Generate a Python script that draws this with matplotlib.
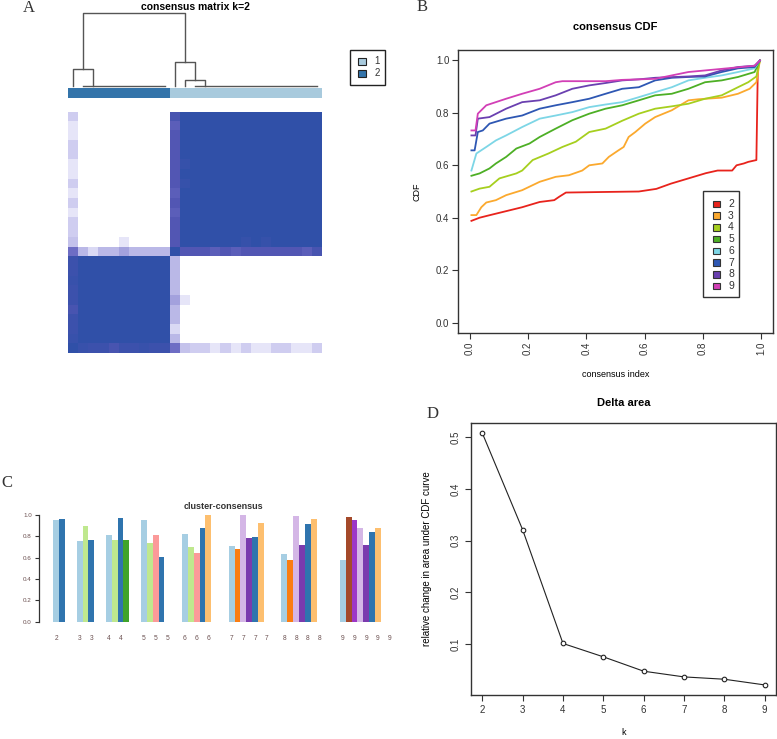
import matplotlib
matplotlib.use('Agg')
import matplotlib.pyplot as plt
import numpy as np
from matplotlib.colors import LinearSegmentedColormap
from matplotlib.patches import Rectangle

plt.rcParams['font.family'] = ['Liberation Sans', 'DejaVu Sans']

# ---------------- data ----------------
# Panel A: consensus matrix k=2
cluster_k2 = [2] * 10 + [1] * 15
s0_vs_c2 = [0.9, 0.85, 0.85, 0.8, 0.85, 0.85, 0.9, 0.85, 0.85]          # sample0 vs samples 1..9
s0_vs_s10 = 0.6
s0_vs_c1 = [0.25, 0.2, 0.2, 0.1, 0.2, 0.1, 0.2, 0.1, 0.1, 0.2, 0.2, 0.1, 0.1, 0.2]  # vs 11..24
s10_vs_c2 = [0.3, 0.15, 0.3, 0.3, 0.4, 0.3, 0.3, 0.3, 0.3]               # vs 1..9
s10_vs_c1 = [0.75, 0.75, 0.75, 0.7, 0.75, 0.7, 0.75, 0.75, 0.75, 0.75, 0.75, 0.75, 0.7, 0.8]
extra_pairs = [(5, 11, 0.1), (11, 17, 0.92), (11, 19, 0.92)]
# dendrogram: (height, left, right); ints = leaves; lists = leaves merged at height 0
dendro = (1.0, (0.233, 0, list(range(1, 10))), (0.329, 10, (0.082, 11, list(range(12, 25)))))
cluster_colors = {1: '#A8CADD', 2: '#3374AA'}

# Panel B: consensus CDF
cdf_k = [2, 3, 4, 5, 6, 7, 8, 9]
cdf_x2 = [0.006, 0.034, 0.07, 0.125, 0.18, 0.24, 0.29, 0.307, 0.33, 0.45, 0.58, 0.64, 0.69, 0.75, 0.81, 0.85, 0.90, 0.915, 0.94, 0.955, 0.983, 0.988, 0.995]
cdf_y2 = [0.388, 0.40, 0.41, 0.425, 0.44, 0.46, 0.467, 0.48, 0.496, 0.498, 0.50, 0.51, 0.53, 0.55, 0.57, 0.58, 0.58, 0.60, 0.607, 0.613, 0.62, 0.975, 1.0]
cdf_x3 = [0.006, 0.023, 0.04, 0.057, 0.09, 0.125, 0.18, 0.24, 0.295, 0.34, 0.386, 0.41, 0.455, 0.477, 0.51, 0.528, 0.545, 0.568, 0.602, 0.636, 0.693, 0.75, 0.784, 0.864, 0.92, 0.96, 0.983, 0.995]
cdf_y3 = [0.41, 0.41, 0.44, 0.458, 0.467, 0.486, 0.505, 0.537, 0.556, 0.562, 0.58, 0.60, 0.607, 0.632, 0.657, 0.67, 0.708, 0.727, 0.759, 0.784, 0.81, 0.848, 0.852, 0.858, 0.873, 0.892, 0.917, 1.0]
cdf_x4 = [0.006, 0.034, 0.068, 0.102, 0.16, 0.18, 0.216, 0.27, 0.318, 0.364, 0.41, 0.466, 0.523, 0.58, 0.636, 0.693, 0.75, 0.807, 0.864, 0.92, 0.955, 0.983, 0.995]
cdf_y4 = [0.50, 0.511, 0.518, 0.55, 0.569, 0.58, 0.62, 0.645, 0.67, 0.69, 0.727, 0.74, 0.77, 0.797, 0.816, 0.825, 0.835, 0.854, 0.867, 0.898, 0.917, 0.939, 1.0]
cdf_x5 = [0.006, 0.034, 0.068, 0.09, 0.125, 0.16, 0.205, 0.24, 0.295, 0.352, 0.41, 0.466, 0.523, 0.58, 0.636, 0.693, 0.75, 0.807, 0.864, 0.92, 0.977, 0.995]
cdf_y5 = [0.56, 0.569, 0.588, 0.607, 0.632, 0.664, 0.683, 0.708, 0.74, 0.772, 0.797, 0.816, 0.829, 0.848, 0.867, 0.873, 0.892, 0.917, 0.924, 0.937, 0.956, 1.0]
cdf_x6 = [0.006, 0.023, 0.057, 0.09, 0.125, 0.18, 0.24, 0.295, 0.352, 0.41, 0.466, 0.523, 0.58, 0.636, 0.693, 0.75, 0.807, 0.864, 0.92, 0.977, 0.995]
cdf_y6 = [0.58, 0.645, 0.67, 0.695, 0.714, 0.746, 0.778, 0.79, 0.803, 0.822, 0.832, 0.841, 0.86, 0.879, 0.898, 0.924, 0.934, 0.943, 0.956, 0.97, 1.0]
cdf_x7 = [0.006, 0.017, 0.028, 0.045, 0.068, 0.125, 0.18, 0.24, 0.295, 0.352, 0.41, 0.466, 0.523, 0.58, 0.636, 0.693, 0.75, 0.807, 0.864, 0.92, 0.977, 0.995]
cdf_y7 = [0.657, 0.657, 0.727, 0.733, 0.759, 0.778, 0.79, 0.816, 0.829, 0.841, 0.854, 0.873, 0.892, 0.898, 0.924, 0.934, 0.937, 0.939, 0.956, 0.97, 0.975, 1.0]
cdf_x8 = [0.006, 0.02, 0.028, 0.068, 0.125, 0.18, 0.24, 0.295, 0.352, 0.41, 0.466, 0.523, 0.58, 0.636, 0.75, 0.807, 0.864, 0.92, 0.977, 0.995]
cdf_y8 = [0.714, 0.714, 0.778, 0.784, 0.816, 0.841, 0.848, 0.867, 0.892, 0.905, 0.914, 0.924, 0.928, 0.934, 0.939, 0.943, 0.962, 0.975, 0.98, 1.0]
cdf_x9 = [0.006, 0.02, 0.028, 0.057, 0.125, 0.18, 0.24, 0.295, 0.318, 0.466, 0.523, 0.636, 0.693, 0.75, 0.864, 0.977, 0.995]
cdf_y9 = [0.733, 0.733, 0.797, 0.829, 0.854, 0.873, 0.892, 0.917, 0.921, 0.921, 0.926, 0.93, 0.943, 0.956, 0.968, 0.98, 1.0]
cdf_colors = ['#E8231C', '#FBA92E', '#A6CF1E', '#4DAF25', '#7DD6E6', '#2E57B3', '#6A40B0', '#D23FB6']

# Panel C: cluster-consensus
cc_k = [2, 3, 4, 5, 6, 7, 8, 9]
nan = float('nan')
cc_v2 = [0.953, 0.962]
cc_v3 = [0.759, 0.897, 0.769]
cc_v4 = [0.809, 0.766, 0.975, 0.769]
cc_v5 = [0.953, 0.734, 0.809, 0.603, nan]
cc_v6 = [0.819, 0.703, 0.647, 0.875, 1.0, nan]
cc_v7 = [0.7125, 0.681, 1.0, 0.781, 0.791, 0.928, nan]
cc_v8 = [0.634, 0.578, 0.99, 0.722, 0.916, 0.966, nan, nan]
cc_v9 = [0.578, 0.984, 0.953, 0.875, 0.722, 0.838, 0.875, nan, nan]
LB, DB, LG, DG, PK = '#A6CEE3', '#2F74AE', '#BFE88E', '#3FA42B', '#FB9A99'
LO, OR, LP, PU, BR, VI = '#FDBF6F', '#FA7D12', '#D4B6E6', '#7A3AAE', '#A4492A', '#9D36C6'
cc_c2 = [LB, DB]
cc_c3 = [LB, LG, DB]
cc_c4 = [LB, LG, DB, DG]
cc_c5 = [LB, LG, PK, DB, 'none']
cc_c6 = [LB, LG, PK, DB, LO, 'none']
cc_c7 = [LB, OR, LP, PU, DB, LO, 'none']
cc_c8 = [LB, OR, LP, PU, DB, LO, 'none', 'none']
cc_c9 = [LB, BR, VI, LP, PU, DB, LO, 'none', 'none']

# Panel D: delta area
delta_k = [2, 3, 4, 5, 6, 7, 8, 9]
delta_v = [0.5078, 0.321, 0.1013, 0.0755, 0.0477, 0.0367, 0.0322, 0.0212]

# ---------------- figure ----------------
W, H = 777, 739
fig = plt.figure(figsize=(W / 100, H / 100), dpi=100)


def ax_px(x0, y0, x1, y1, **kw):
    return fig.add_axes([x0 / W, 1 - y1 / H, (x1 - x0) / W, (y1 - y0) / H], **kw)


# ---- Panel A ----
n = len(cluster_k2)
M = np.array([[1.0 if cluster_k2[i] == cluster_k2[j] else 0.0 for j in range(n)] for i in range(n)])


def setpair(i, j, v):
    M[i, j] = v
    M[j, i] = v


for j, v in zip(range(1, 10), s0_vs_c2):
    setpair(0, j, v)
setpair(0, 10, s0_vs_s10)
for j, v in zip(range(11, 25), s0_vs_c1):
    setpair(0, j, v)
for j, v in zip(range(1, 10), s10_vs_c2):
    setpair(10, j, v)
for j, v in zip(range(11, 25), s10_vs_c1):
    setpair(10, j, v)
for i, j, v in extra_pairs:
    setpair(i, j, v)

cmap = LinearSegmentedColormap.from_list('cons', [
    (0.0, '#FFFFFF'), (0.1, '#E6E5F8'), (0.2, '#CFCDF0'), (0.3, '#BAB8E7'),
    (0.4, '#A3A1DD'), (0.6, '#6E6DC4'), (0.75, '#5357B4'), (0.85, '#3D52AD'),
    (1.0, '#3050A8')])

axh = ax_px(68, 112, 322, 353)
axh.imshow(M[::-1], cmap=cmap, vmin=0, vmax=1, aspect='auto',
           interpolation='nearest', extent=(0, n, 0, n))
axh.axis('off')

axd = ax_px(68, 13, 322, 86)
axd.set_xlim(0, n)
axd.set_ylim(0, dendro[0])
axd.axis('off')
dcol = '#555555'


def draw_tree(t):
    if isinstance(t, int):
        return t + 0.5, 0.0
    if isinstance(t, list):
        cs = [i + 0.5 for i in t]
        axd.plot([cs[0], cs[-1]], [0, 0], color=dcol, lw=1, clip_on=False)
        x = cs[-1]
        for c in reversed(cs[:-1]):
            x = (c + x) / 2
        return x, 0.0
    h, l, r = t
    xl, hl = draw_tree(l)
    xr, hr = draw_tree(r)
    axd.plot([xl, xl, xr, xr], [hl, h, h, hr], color=dcol, lw=1, clip_on=False)
    return (xl + xr) / 2, h


draw_tree(dendro)

axc = ax_px(68, 88, 322, 98)
axc.bar(np.arange(n), 1, width=1, align='edge',
        color=[cluster_colors[c] for c in cluster_k2], linewidth=0)
axc.set_xlim(0, n)
axc.set_ylim(0, 1)
axc.axis('off')

fig.text(195 / W, 1 - 7 / H, 'consensus matrix k=2', ha='center', va='center',
         fontsize=7.5, fontweight='bold')

# ---- Panel B ----
axb = ax_px(458, 50, 773, 333)
cdf_xs = [cdf_x2, cdf_x3, cdf_x4, cdf_x5, cdf_x6, cdf_x7, cdf_x8, cdf_x9]
cdf_ys = [cdf_y2, cdf_y3, cdf_y4, cdf_y5, cdf_y6, cdf_y7, cdf_y8, cdf_y9]
for xs, ys, c in zip(cdf_xs, cdf_ys, cdf_colors):
    axb.plot(xs, ys, color=c, lw=1.3)
axb.set_xlim(-0.04, 1.04)
axb.set_ylim(-0.04, 1.04)
ticks = [0.0, 0.2, 0.4, 0.6, 0.8, 1.0]
axb.set_xticks(ticks)
axb.set_xticklabels(['%.1f' % t for t in ticks], rotation=90)
axb.set_yticks(ticks)
axb.set_yticklabels(['%.1f' % t for t in ticks])
axb.tick_params(direction='out', length=4.3, width=0.8, labelsize=7, colors='#333333', pad=2)
for s in axb.spines.values():
    s.set_color('#333333')
    s.set_linewidth(1)
axb.text(0.5, 1.0 + 23 / 283, 'consensus CDF', transform=axb.transAxes, ha='center',
         va='center', fontsize=8, fontweight='bold')
axb.set_xlabel('consensus index', fontsize=6.5)
axb.xaxis.set_label_coords(0.5, -0.13)
axb.set_ylabel('CDF', fontsize=6.5)
axb.yaxis.set_label_coords(-0.117, 0.5)

# ---- Panel C ----
axC = ax_px(38.5, 515, 393, 621.7)
cc_vals = [cc_v2, cc_v3, cc_v4, cc_v5, cc_v6, cc_v7, cc_v8, cc_v9]
cc_cols = [cc_c2, cc_c3, cc_c4, cc_c5, cc_c6, cc_c7, cc_c8, cc_c9]
lab_col = '#6B5050'
offset = 0
for k, vals, cols in zip(cc_k, cc_vals, cc_cols):
    xs = np.arange(len(vals)) + offset
    v = np.nan_to_num(np.array(vals), nan=0.0)
    axC.bar(xs, v, width=1, align='edge', color=cols, linewidth=0)
    for i, x in enumerate(xs):
        if i % 2 == 0:
            axC.text(x + 0.5, -0.153, str(k), ha='center', va='center',
                     fontsize=4.8, color=lab_col,
                     transform=axC.get_xaxis_transform())
    offset += len(vals) + 2
axC.set_xlim(-2.53, 58.07)
axC.set_ylim(0, 1)
for s in ['top', 'right', 'bottom']:
    axC.spines[s].set_visible(False)
axC.spines['left'].set_linewidth(0.9)
axC.spines['left'].set_color('#333333')
axC.set_xticks([])
cticks = [0.0, 0.2, 0.4, 0.6, 0.8, 1.0]
axC.set_yticks(cticks)
axC.set_yticklabels(['%.1f' % t for t in cticks])
axC.tick_params(axis='y', direction='out', length=3.2, width=0.8, labelsize=4.5,
                labelcolor=lab_col, color='#333333', pad=1.5)
axC.patch.set_alpha(0)
axC.text(29, 1.075, 'cluster-consensus', ha='center', va='center', fontsize=6.5,
         fontweight='bold', color='#333333', transform=axC.get_xaxis_transform())

# ---- Panel D ----
axD = ax_px(471, 423, 776, 695)
axD.plot(delta_k, delta_v, color='#222222', lw=0.8, marker='o', markersize=3.3,
         markerfacecolor='white', markeredgecolor='#222222', markeredgewidth=0.8)
kr = max(delta_k) - min(delta_k)
axD.set_xlim(min(delta_k) - 0.04 * kr, max(delta_k) + 0.04 * kr)
vr = max(delta_v) - min(delta_v)
axD.set_ylim(min(delta_v) - 0.04 * vr, max(delta_v) + 0.04 * vr)
axD.set_xticks(delta_k)
dticks = [0.1, 0.2, 0.3, 0.4, 0.5]
axD.set_yticks(dticks)
axD.set_yticklabels(['%.1f' % t for t in dticks], rotation=90, va='center')
axD.tick_params(direction='out', length=4.3, width=0.8, labelsize=7, colors='#333333', pad=3)
for s in axD.spines.values():
    s.set_color('#333333')
    s.set_linewidth(1)
axD.text(0.5, 1.0 + 20 / 272, 'Delta area', transform=axD.transAxes, ha='center',
         va='center', fontsize=8, fontweight='bold')
axD.set_xlabel('k', fontsize=6.5)
axD.xaxis.set_label_coords(0.5, -0.12)
axD.set_ylabel('relative change in area under CDF curve', fontsize=7)
axD.yaxis.set_label_coords(-0.128, 0.5)

# ---- overlay: legends and panel letters ----
fa = fig.add_axes([0, 0, 1, 1], zorder=10)
fa.set_xlim(0, W)
fa.set_ylim(H, 0)
fa.axis('off')
fa.patch.set_alpha(0)

# legend A
fa.add_patch(Rectangle((350, 50), 35, 35, fill=False, edgecolor='#222222', lw=1))
for i, cl in enumerate([1, 2]):
    y = 61.5 + i * 12
    fa.add_patch(Rectangle((358, y - 3.5), 8, 7, facecolor=cluster_colors[cl],
                           edgecolor='#222222', lw=0.8))
    fa.text(377, y, str(cl), ha='center', va='center', fontsize=7, color='#333333')

# legend B
fa.add_patch(Rectangle((703, 191), 36, 106, fill=False, edgecolor='#333333', lw=1))
for i, (k, c) in enumerate(zip(cdf_k, cdf_colors)):
    y = 204 + i * 11.7
    fa.add_patch(Rectangle((712.7, y - 3.3), 7, 6.6, facecolor=c, edgecolor='#333333', lw=0.8))
    fa.text(731, y, str(k), ha='center', va='center', fontsize=7.5, color='#333333')

serif = ['Liberation Serif', 'DejaVu Serif']
for letter, x, y in [('A', 29, 8), ('B', 422, 7), ('C', 7, 483), ('D', 433, 414)]:
    fa.text(x, y, letter, ha='center', va='center', fontsize=12, family=serif, color='#333333')

fig.savefig('out.png', dpi=100)
